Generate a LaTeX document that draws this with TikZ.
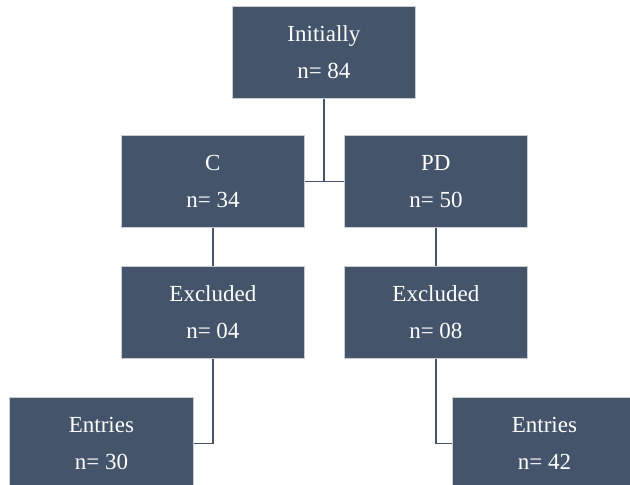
\documentclass[tikz,border=0pt]{standalone}
\usepackage{fontspec}
\setmainfont{Liberation Serif}
\definecolor{boxfill}{HTML}{44546A}
\definecolor{boxedge}{HTML}{C9CCD1}
\begin{document}
\begin{tikzpicture}[x=1pt,y=1pt,
  box/.style={rectangle, fill=boxfill, draw=boxedge, line width=0.8pt,
    anchor=north west, minimum width=183pt, minimum height=92pt,
    inner sep=0pt, align=center, text=white,
    font=\fontsize{23}{37}\selectfont},
  link/.style={draw=boxfill, line width=1.4pt}]
\useasboundingbox (0,0) rectangle (630,-485);
\clip (0,0) rectangle (630,-485);
\node[box] (top) at (232,-6) {Initially\\n= 84};
\node[box] (C) at (121,-135) {C\\n= 34};
\node[box] (PD) at (344,-135) {PD\\n= 50};
\node[box] (exC) at (121,-266) {Excluded\\n= 04};
\node[box] (exPD) at (344,-266) {Excluded\\n= 08};
\node[box, minimum width=184pt] (entL) at (9,-397) {Entries\\n= 30};
\node[box, minimum width=184pt] (entR) at (452,-397) {Entries\\n= 42};
\coordinate (j) at (top.south |- C.east);
\draw[link] (top.south) -- (j);
\draw[link] (C.east) -- (PD.west);
\draw[link] (C.south) -- (exC.north);
\draw[link] (PD.south) -- (exPD.north);
\draw[link] (exC.south) |- (entL.east);
\draw[link] (exPD.south) |- (entR.west);
\end{tikzpicture}
\end{document}
